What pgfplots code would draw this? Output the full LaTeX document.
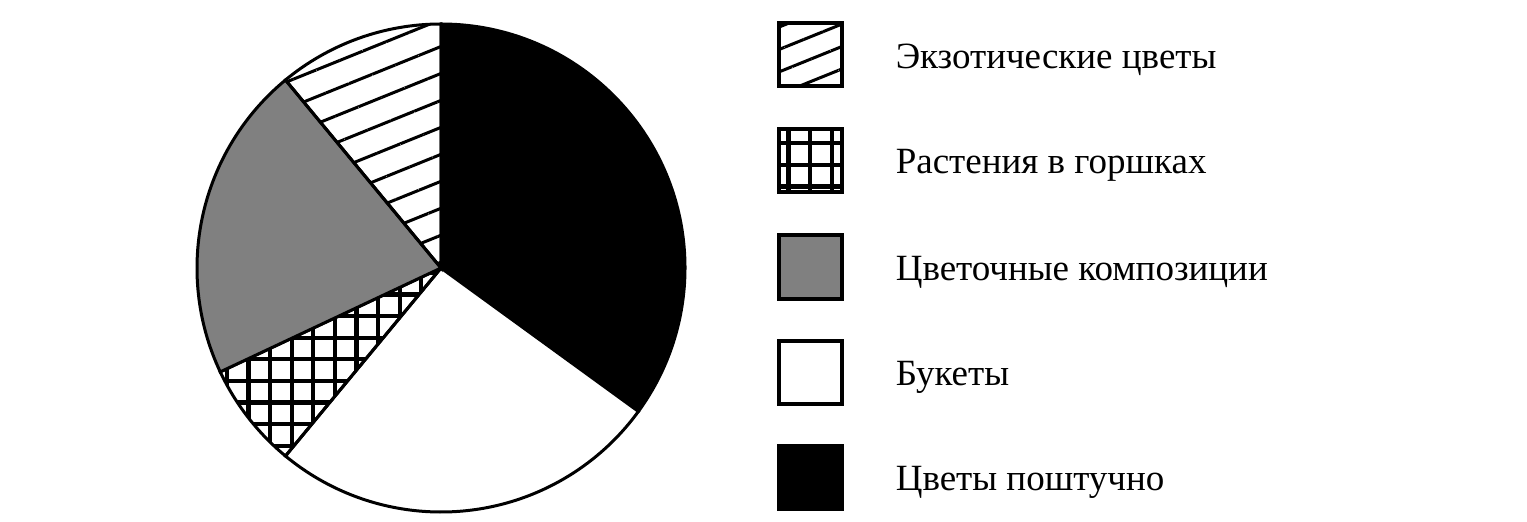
\documentclass[border=0pt]{standalone}
\usepackage{pgfplots}
\pgfplotsset{compat=1.18}
\usetikzlibrary{patterns,patterns.meta}
\usepackage{fontspec}
\setmainfont{Liberation Serif}

% square grid, lines through the middle of the tile so no seams show
\pgfdeclarepatternformonly{sqgrid}{\pgfqpoint{-1pt}{-1pt}}{\pgfqpoint{6.4pt}{6.4pt}}{\pgfqpoint{5.4pt}{5.4pt}}{%
  \pgfsetlinewidth{1.05pt}%
  \pgfpathmoveto{\pgfqpoint{-0.2pt}{2.7pt}}\pgfpathlineto{\pgfqpoint{5.6pt}{2.7pt}}%
  \pgfpathmoveto{\pgfqpoint{2.7pt}{-0.2pt}}\pgfpathlineto{\pgfqpoint{2.7pt}{5.6pt}}%
  \pgfusepath{stroke}}

% one sector: start (percent), share (percent), style
\newcommand\slice[3]{%
  \draw[line width=0.75pt,#3] (axis cs:441,247) -- ++({90-3.6*#1}:61pt)
    arc[start angle={90-3.6*#1}, end angle={90-3.6*(#1+#2)}, radius=61pt] -- cycle;}

\tikzset{
  exotic/.style={pattern={Lines[angle=22,distance=6.25pt,line width=0.75pt]}},
  potted/.style={pattern=sqgrid},
  exoticbox/.style={pattern={Lines[angle=22,distance=5.2pt,line width=0.75pt]}},
  lbl/.style={anchor=base west, inner sep=0pt, font=\fontsize{9.25}{11}\selectfont},
}

\begin{document}
\begin{tikzpicture}
\begin{axis}[
    x=0.25pt, y=0.25pt,
    xmin=0, xmax=1527, ymin=0, ymax=515,
    hide axis, clip=false,
]
\path (axis cs:0,0) rectangle (axis cs:1527,515);

% shares in percent, clockwise from the top
\slice{0}{35}{fill=black}      % Цветы поштучно
\slice{35}{26}{fill=white}     % Букеты
\slice{61}{7}{potted}          % Растения в горшках
\slice{68}{21}{fill=black!50}  % Цветочные композиции
\slice{89}{11}{exotic}         % Экзотические цветы

% legend
\draw[line width=1pt,exoticbox] (axis cs:779,428.5) rectangle (axis cs:842,491.5);
\node[lbl] at (axis cs:895,446.5) {Экзотические цветы};
\draw[line width=1pt,potted] (axis cs:779,323) rectangle (axis cs:842,386);
\node[lbl] at (axis cs:895,341) {Растения в горшках};
\draw[line width=1pt,fill=black!50] (axis cs:779,216.5) rectangle (axis cs:842,279.5);
\node[lbl] at (axis cs:895,234.5) {Цветочные композиции};
\draw[line width=1pt,fill=white] (axis cs:779,111.5) rectangle (axis cs:842,174.5);
\node[lbl] at (axis cs:895,129.5) {Букеты};
\draw[line width=1pt,fill=black] (axis cs:779,6.5) rectangle (axis cs:842,69.5);
\node[lbl] at (axis cs:895,24.5) {Цветы поштучно};
\end{axis}
\end{tikzpicture}
\end{document}
